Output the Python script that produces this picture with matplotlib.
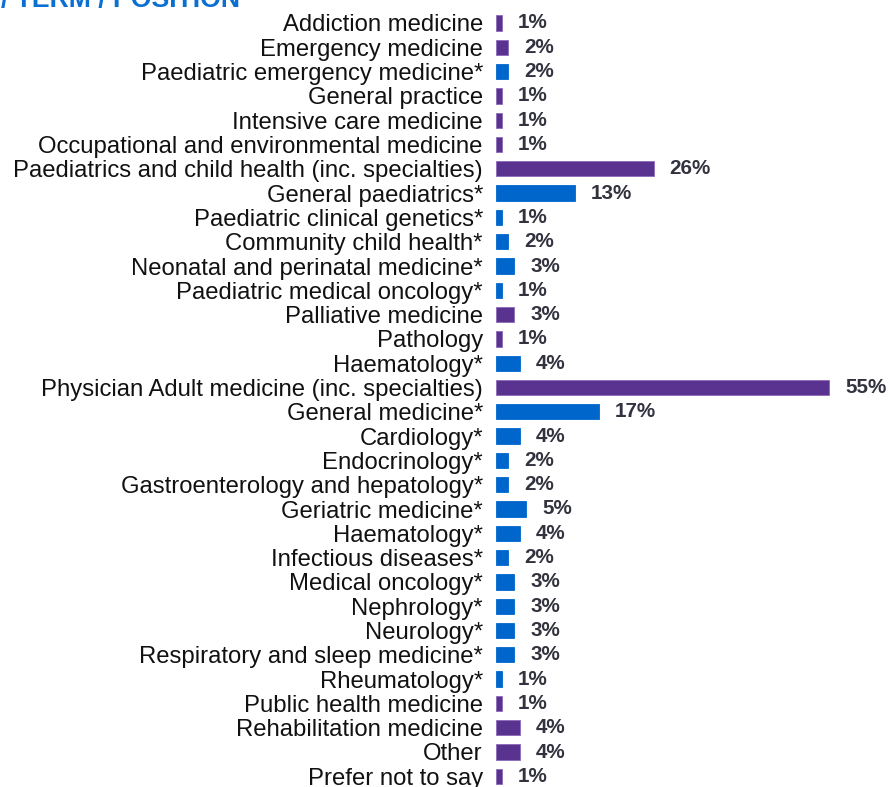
import matplotlib
matplotlib.use("Agg")
import matplotlib.pyplot as plt

plt.rcParams['font.family'] = ['Liberation Sans', 'DejaVu Sans']

categories = [
    "Addiction medicine",
    "Emergency medicine",
    "Paediatric emergency medicine*",
    "General practice",
    "Intensive care medicine",
    "Occupational and environmental medicine",
    "Paediatrics and child health (inc. specialties)",
    "General paediatrics*",
    "Paediatric clinical genetics*",
    "Community child health*",
    "Neonatal and perinatal medicine*",
    "Paediatric medical oncology*",
    "Palliative medicine",
    "Pathology",
    "Haematology*",
    "Physician Adult medicine (inc. specialties)",
    "General medicine*",
    "Cardiology*",
    "Endocrinology*",
    "Gastroenterology and hepatology*",
    "Geriatric medicine*",
    "Haematology*",
    "Infectious diseases*",
    "Medical oncology*",
    "Nephrology*",
    "Neurology*",
    "Respiratory and sleep medicine*",
    "Rheumatology*",
    "Public health medicine",
    "Rehabilitation medicine",
    "Other",
    "Prefer not to say",
]
values = [1, 2, 2, 1, 1, 1, 26, 13, 1, 2, 3, 1, 3, 1, 4, 55, 17, 4, 2, 2, 5, 4, 2, 3, 3, 3, 3, 1, 1, 4, 4, 1]
# 'p' = specialty (purple), 'b' = sub-specialty (blue)
groups = ['p', 'p', 'b', 'p', 'p', 'p', 'p', 'b', 'b', 'b', 'b', 'b', 'p', 'p', 'b',
          'p', 'b', 'b', 'b', 'b', 'b', 'b', 'b', 'b', 'b', 'b', 'b', 'b', 'p', 'p', 'p', 'p']
title_text = "/ TERM / POSITION"

PURPLE = "#5A3390"
BLUE = "#0066CC"
colors = [PURPLE if g == 'p' else BLUE for g in groups]

W, H = 889, 787
fig = plt.figure(figsize=(W / 100, H / 100), dpi=100)
ax_left = 496 / W
ax = fig.add_axes([ax_left, 0, 1 - ax_left, 1])

pos = list(range(len(categories)))
ax.barh(pos, values, height=0.63, color=colors, edgecolor=[
    "#8a6bb8" if g == 'p' else BLUE for g in groups], linewidth=0.6)

row_px = 24.3
first_px = 23
ax.set_ylim((H - first_px) / row_px, -first_px / row_px)
ax.set_xlim(0, (W - 496) / 6.06)

ax.set_yticks(pos)
ax.set_yticklabels(categories, fontsize=17.2, color="#111111")
ax.tick_params(axis='y', length=0, pad=9.5)
ax.set_xticks([])
for s in ax.spines.values():
    s.set_visible(False)
ax.patch.set_alpha(0)

for p, v in zip(pos, values):
    ax.annotate(f"{v}%", xy=(v, p), xytext=(11.5, 0), textcoords='offset points',
                ha='left', va='center', fontsize=14.9, fontweight='bold', color="#333340")

fig.text(240 / W, 1 - 7 / H, title_text, ha='right', va='baseline',
         fontsize=19.2, fontweight='bold', color="#0A6FD2")

fig.savefig("out.png", dpi=100)
